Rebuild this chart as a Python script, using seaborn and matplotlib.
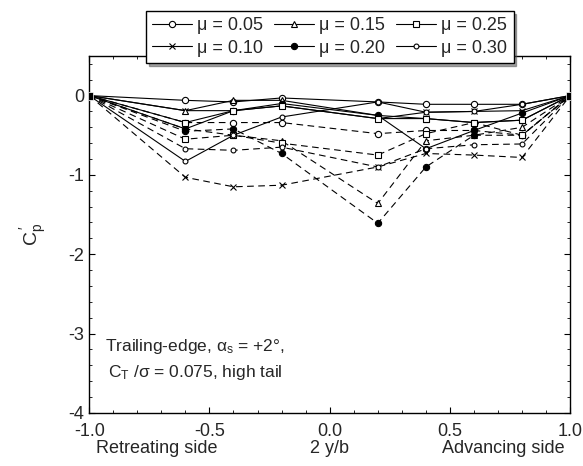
import seaborn as sns
import matplotlib.pyplot as plt
import pandas as pd
from matplotlib.lines import Line2D

# spanwise stations, 2y/b
span = [-1.0, -0.6, -0.4, -0.2, 0.2, 0.4, 0.6, 0.8, 1.0]
mu_labels = ["0.05", "0.10", "0.15", "0.20", "0.25", "0.30"]

# Cp', solid curves
cp_solid = {
    "0.05": [0, -0.06, -0.08, -0.03, -0.08, -0.11, -0.11, -0.11, 0],
    "0.10": [0, -0.19, -0.19, -0.13, -0.29, -0.21, -0.20, -0.19, 0],
    "0.15": [0, -0.19, -0.06, -0.06, -0.25, -0.29, -0.34, -0.31, 0],
    "0.20": [0, -0.42, -0.19, -0.10, -0.25, -0.67, -0.44, -0.22, 0],
    "0.25": [0, -0.34, -0.19, -0.13, -0.29, -0.29, -0.34, -0.31, 0],
    "0.30": [0, -0.83, -0.50, -0.27, -0.08, -0.21, -0.20, -0.11, 0],
}
# dashed curves
cp_dashed = {
    "0.05": [0, -0.34, -0.34, -0.34, -0.48, -0.44, -0.44, -0.50, 0],
    "0.10": [0, -1.03, -1.15, -1.13, -0.90, -0.73, -0.75, -0.78, 0],
    "0.15": [0, -0.42, -0.50, -0.57, -1.36, -0.57, -0.50, -0.40, 0],
    "0.20": [0, -0.45, -0.42, -0.73, -1.61, -0.90, -0.50, -0.50, 0],
    "0.25": [0, -0.55, -0.50, -0.60, -0.75, -0.48, -0.34, -0.50, 0],
    "0.30": [0, -0.67, -0.69, -0.65, -0.90, -0.67, -0.62, -0.61, 0],
}

markers = {"0.05": "o", "0.10": "x", "0.15": "^", "0.20": "o", "0.25": "s", "0.30": "o"}
msizes = {"0.05": 4.5, "0.10": 5, "0.15": 4, "0.20": 4.5, "0.25": 5, "0.30": 3.5}
mfills = {"0.05": "white", "0.10": "k", "0.15": "white", "0.20": "k", "0.25": "white", "0.30": "white"}

sns.set_style("ticks")
plt.rcParams['font.family'] = ['Liberation Sans', 'DejaVu Sans']
plt.rcParams['mathtext.fontset'] = 'custom'
plt.rcParams['mathtext.rm'] = 'Liberation Sans'
plt.rcParams['mathtext.it'] = 'Liberation Sans:italic'

fig = plt.figure(figsize=(5.83, 4.66), dpi=100)
ax = fig.add_axes([0.153, 0.114, 0.825, 0.766])

for mu in mu_labels:
    for vals, ls in [(cp_solid[mu], "-"), (cp_dashed[mu], (0, (6, 4)))]:
        df = pd.DataFrame({"x": span, "cp": vals})
        sns.lineplot(data=df, x="x", y="cp", ax=ax, color="k", lw=0.8,
                     linestyle=ls, marker=markers[mu], markersize=msizes[mu],
                     markerfacecolor=mfills[mu], markeredgecolor="k",
                     markeredgewidth=0.8, markevery=list(range(1, len(span) - 1)),
                     sort=False, legend=False)

# filled squares at the tips
ends = pd.DataFrame({"x": [span[0], span[-1]], "cp": [cp_solid["0.05"][0], cp_solid["0.05"][-1]]})
sns.scatterplot(data=ends, x="x", y="cp", ax=ax, marker="s", color="k", s=40, zorder=5, legend=False)

ax.set_xlim(-1.0, 1.0)
ax.set_ylim(-4, 0.5)
ax.set_xticks([-1.0, -0.5, 0.0, 0.5, 1.0])
ax.set_xticklabels(["-1.0", "-0.5", "0.0", "0.5", "1.0"])
ax.set_yticks([-4, -3, -2, -1, 0])
ax.set_yticklabels(["-4", "-3", "-2", "-1", "0"])
ax.set_xticks([i / 10 for i in range(-10, 11)], minor=True)
ax.set_yticks([i / 5 for i in range(-20, 3)], minor=True)
ax.tick_params(which="both", direction="in", top=True, right=True, labelsize=13, color="k")
ax.tick_params(which="major", length=4)
ax.tick_params(which="minor", length=2)
ax.tick_params(axis="x", pad=7)
for s in ax.spines.values():
    s.set_linewidth(1.0)
    s.set_color("k")

ax.set_xlabel("")
ax.set_ylabel(r"$\mathrm{C_p^{\,\prime}}$", fontsize=14, labelpad=14)

# second row of x labels
for xpos, txt in [(-0.72, "Retreating side"), (0.0, "2 y/b"), (0.72, "Advancing side")]:
    ax.text(xpos, -0.075, txt, transform=ax.get_xaxis_transform(), ha="center", va="top", fontsize=13)

ax.text(-0.56, -3.33, "Trailing-edge, $\\mathrm{\\alpha_s}$ = +2\u00b0,\n$\\mathrm{C_T}$ /\u03c3 = 0.075, high tail",
        ha="center", va="center", fontsize=12.5, linespacing=1.5)

handles = [Line2D([], [], color="k", lw=0.8, marker=markers[m], markersize=msizes[m],
                  markerfacecolor=mfills[m], markeredgecolor="k", markeredgewidth=0.8)
           for m in mu_labels]
labels = ["\u03bc = " + m for m in mu_labels]
leg = ax.legend(handles, labels, ncol=3, loc="lower center", bbox_to_anchor=(0.5, 0.955),
                fontsize=13, frameon=True, fancybox=False, edgecolor="k",
                handlelength=2.2, handletextpad=0.3, columnspacing=0.6,
                borderpad=0.35, labelspacing=0.3, shadow=True)
leg.get_frame().set_linewidth(1.0)

fig.savefig("out.png", dpi=100)
